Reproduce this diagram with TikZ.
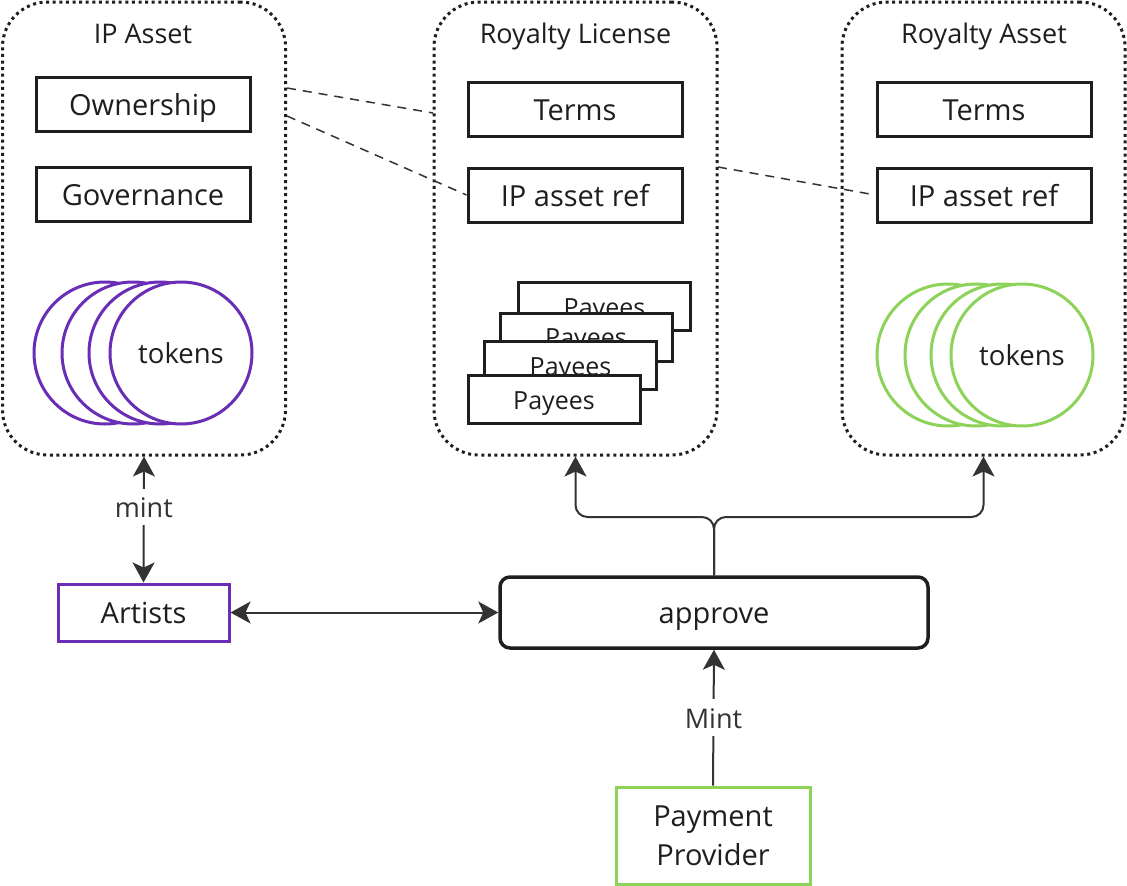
\documentclass[tikz,border=0pt]{standalone}
\usepackage{fontspec}
\setmainfont{Open Sans}
\usetikzlibrary{arrows.meta}
\definecolor{ink}{HTML}{1E1E1E}
\definecolor{arr}{HTML}{333333}
\definecolor{purp}{HTML}{6A2DB5}
\definecolor{grn}{HTML}{8DD35A}
\begin{document}
\begin{tikzpicture}[x=1pt,y=-1pt,
  big/.style={font=\fontsize{29}{39}\selectfont, text height=31pt, text depth=8.5pt},
  mid/.style={font=\fontsize{27}{32}\selectfont, text height=28.9pt, text depth=7.9pt},
  container/.style={draw=ink, line width=3pt, dash pattern=on 3pt off 3.6pt, rounded corners=45pt, inner sep=0pt, minimum width=283pt, minimum height=453pt},
  title/.style={mid, text=ink, inner sep=0pt},
  box/.style={draw=ink, line width=3pt, fill=white, inner sep=0pt, minimum width=214pt, minimum height=54pt, big, text=ink},
  pay/.style={draw=ink, line width=3pt, fill=white, inner sep=0pt, minimum width=172pt, minimum height=48pt, font=\fontsize{25}{28}\selectfont, text height=26.7pt, text depth=7.3pt, text=ink},
  tok/.style={circle, draw=#1, line width=3pt, fill=white, minimum size=142pt, inner sep=0pt, font=\fontsize{27.5}{30}\selectfont, text=ink},
  actor/.style={draw=#1, line width=3pt, fill=white, inner sep=0pt, text=ink, align=center},
  arrow/.style={draw=arr, line width=2pt, >={Stealth[length=20pt,width=22pt,inset=5pt]}},
  lbl/.style={fill=white, inner sep=0pt, mid, text=arr},
  dashlink/.style={draw=arr, line width=1.5pt, dash pattern=on 9pt off 7pt}
]
\useasboundingbox (0,0) rectangle (1127,886);

% containers
\node[container] (ipa) at (144,228.5) {};
\node[container] (rl) at (575.5,228.5) {};
\node[container] (ra) at (983.5,228.5) {};

\node[title] (ipat) at (143,33) {IP Asset};
\node[title] (rlt) at (575.5,33) {Royalty License};
\node[title] (rat) at (984,33) {Royalty Asset};

% IP Asset contents
\node[box] (own) at (143,104) {Ownership};
\node[box] (gov) at (143,194) {Governance};
\node[tok=purp] (pc1) at (105,353) {};
\node[tok=purp] (pc2) at (133,353) {};
\node[tok=purp] (pc3) at (160,353) {};
\node[tok=purp, text height=29.4pt, text depth=8pt] (pc4) at (181,353) {tokens};

% Royalty License contents
\node[box] (rlterms) at (575,109) {Terms};
\node[box] (rlref) at (575,195) {IP asset ref};
\node[pay] (p4) at (604.5,306.5) {Payees};
\node[pay] (p3) at (586,337) {Payees};
\node[pay] (p2) at (570.5,365.5) {Payees};
\node[pay] (p1) at (554,399.5) {Payees};

% Royalty Asset contents
\node[box] (raterms) at (984,109) {Terms};
\node[box] (raref) at (984,195) {IP asset ref};
\node[tok=grn] (gc1) at (948,355) {};
\node[tok=grn] (gc2) at (976,355) {};
\node[tok=grn] (gc3) at (1002,355) {};
\node[tok=grn, text height=29.4pt, text depth=8pt] (gc4) at (1022,355) {tokens};

% actors
\node[actor=purp, big, minimum width=171pt, minimum height=57pt] (art) at (143.5,612.5) {Artists};
\node[draw=ink, line width=3.5pt, rounded corners=10pt, fill=white, minimum width=428pt, minimum height=71pt, inner sep=0pt, big, text=ink] (appr) at (714,612.5) {approve};
\node[actor=grn, minimum width=194pt, minimum height=97pt, font=\fontsize{29}{39}\selectfont] (pp) at (713,835.5) {Payment\\Provider};

% dashed links
\coordinate (d1s) at (287,88);
\coordinate (d1e) at (433,113);
\coordinate (d2s) at (287,116);
\coordinate (d3s) at (718,167);
\draw[dashlink] (d1s) -- (d1e);
\draw[dashlink] (d2s) -- (rlref.west);
\draw[dashlink] (d3s) -- (raref.west);

% arrows
\draw[arrow,<->] (ipa.south) -- node[lbl, pos=0.4]{mint} (art.north);
\draw[arrow,<->] (art.east) -- (appr.west);
\draw[arrow,->] (pp.north) -- node[lbl]{Mint} (appr.south);
\coordinate (jl) at (575.5,517);
\coordinate (jr) at (983.5,517);
\draw[arrow,->,rounded corners=12pt] (appr.north) |- (jl) -- (rl.south);
\draw[arrow,->,rounded corners=12pt] (appr.north) |- (jr) -- (ra.south);
\end{tikzpicture}
\end{document}
